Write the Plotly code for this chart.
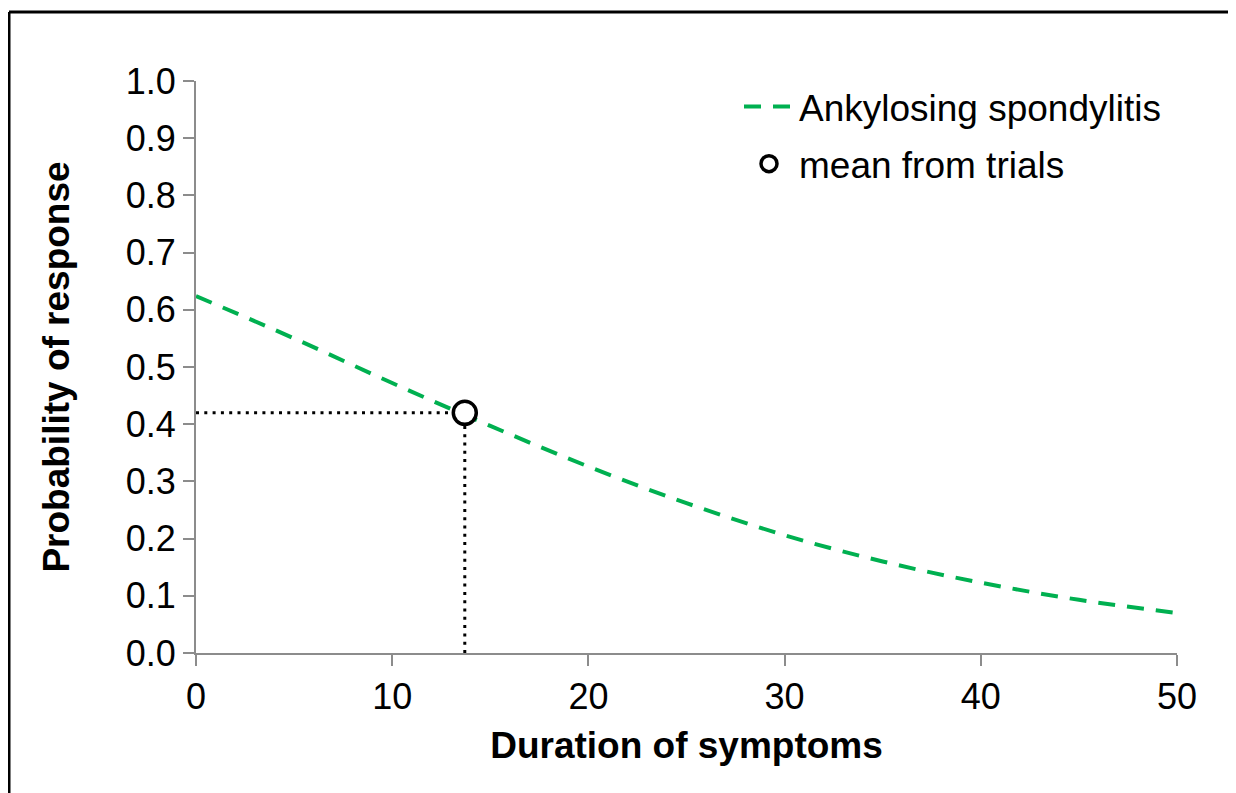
import plotly.graph_objects as go

# Data
duration = [0, 5, 10, 15, 20, 25, 30, 35, 40, 45, 50]
prob_as = [0.624, 0.550, 0.472, 0.397, 0.326, 0.262, 0.206, 0.160, 0.123, 0.093, 0.070]
mean_x = [13.7]
mean_y = [0.42]
x_ticks = [0, 10, 20, 30, 40, 50]
y_ticks = [0.0, 0.1, 0.2, 0.3, 0.4, 0.5, 0.6, 0.7, 0.8, 0.9, 1.0]

FONT = "Liberation Sans, Arial, sans-serif"
GREEN = "#00B050"
AXIS = "#8C8C8C"

W, H = 1228, 785
# plot area in figure pixels
L, R, T, B = 188, 1169, 73, 645
PW, PH = R - L, B - T

fig = go.Figure()

# dotted guide lines to the mean point
fig.add_trace(go.Scatter(x=[0, mean_x[0]], y=[mean_y[0], mean_y[0]], mode="lines",
                         line=dict(color="black", width=3, dash="3px,5.3px"),
                         showlegend=False, hoverinfo="skip"))
fig.add_trace(go.Scatter(x=[mean_x[0], mean_x[0]], y=[0, mean_y[0]], mode="lines",
                         line=dict(color="black", width=3, dash="3px,5.3px"),
                         showlegend=False, hoverinfo="skip"))

fig.add_trace(go.Scatter(x=duration, y=prob_as, mode="lines", name="Ankylosing spondylitis",
                         legendgroup="a",
                         line=dict(color=GREEN, width=4, dash="17px,12px", shape="spline")))
fig.add_trace(go.Scatter(x=mean_x, y=mean_y, mode="markers", name="mean from trials",
                         legendgroup="b",
                         marker=dict(symbol="circle", size=23, color="white",
                                     line=dict(color="black", width=3.5))))

axis_common = dict(showline=True, linecolor=AXIS, linewidth=2, ticks="outside",
                   tickcolor=AXIS, tickwidth=2, ticklen=11, showgrid=False, zeroline=False,
                   tickfont=dict(family=FONT, size=36, color="black"))

fig.update_xaxes(range=[0, 50], tickvals=x_ticks, ticktext=[str(v) for v in x_ticks],
                 title=dict(text="<b>Duration of symptoms</b>", font=dict(family=FONT, size=37, color="black"),
                            standoff=16),
                 **axis_common)
fig.update_yaxes(range=[0, 1.0], tickvals=y_ticks, ticktext=[f"{v:.1f}" for v in y_ticks],
                 title=dict(text="<b>Probability of response</b>", font=dict(family=FONT, size=37, color="black"),
                            standoff=45),
                 **axis_common)

# outer frame (top and left edges visible in the picture)
fx0, fy0 = (1 - L) / PW, (B - 4) / PH
fig.add_shape(type="line", xref="paper", yref="paper", x0=fx0, x1=(W + 20 - L) / PW, y0=fy0, y1=fy0,
              line=dict(color="black", width=3), layer="below")
fig.add_shape(type="line", xref="paper", yref="paper", x0=fx0, x1=fx0, y0=fy0, y1=(B - H - 20) / PH,
              line=dict(color="black", width=3), layer="below")

fig.update_layout(
    width=W, height=H,
    margin=dict(l=L, r=W - R, t=T, b=H - B),
    plot_bgcolor="white", paper_bgcolor="white",
    font=dict(family=FONT, color="black"),
    legend=dict(x=(731 - L) / PW, y=(B - 68) / PH, xanchor="left", yanchor="top",
                font=dict(family=FONT, size=37, color="black"), bgcolor="rgba(0,0,0,0)",
                tracegroupgap=6, itemwidth=50),
)

fig.write_html("out.html")
